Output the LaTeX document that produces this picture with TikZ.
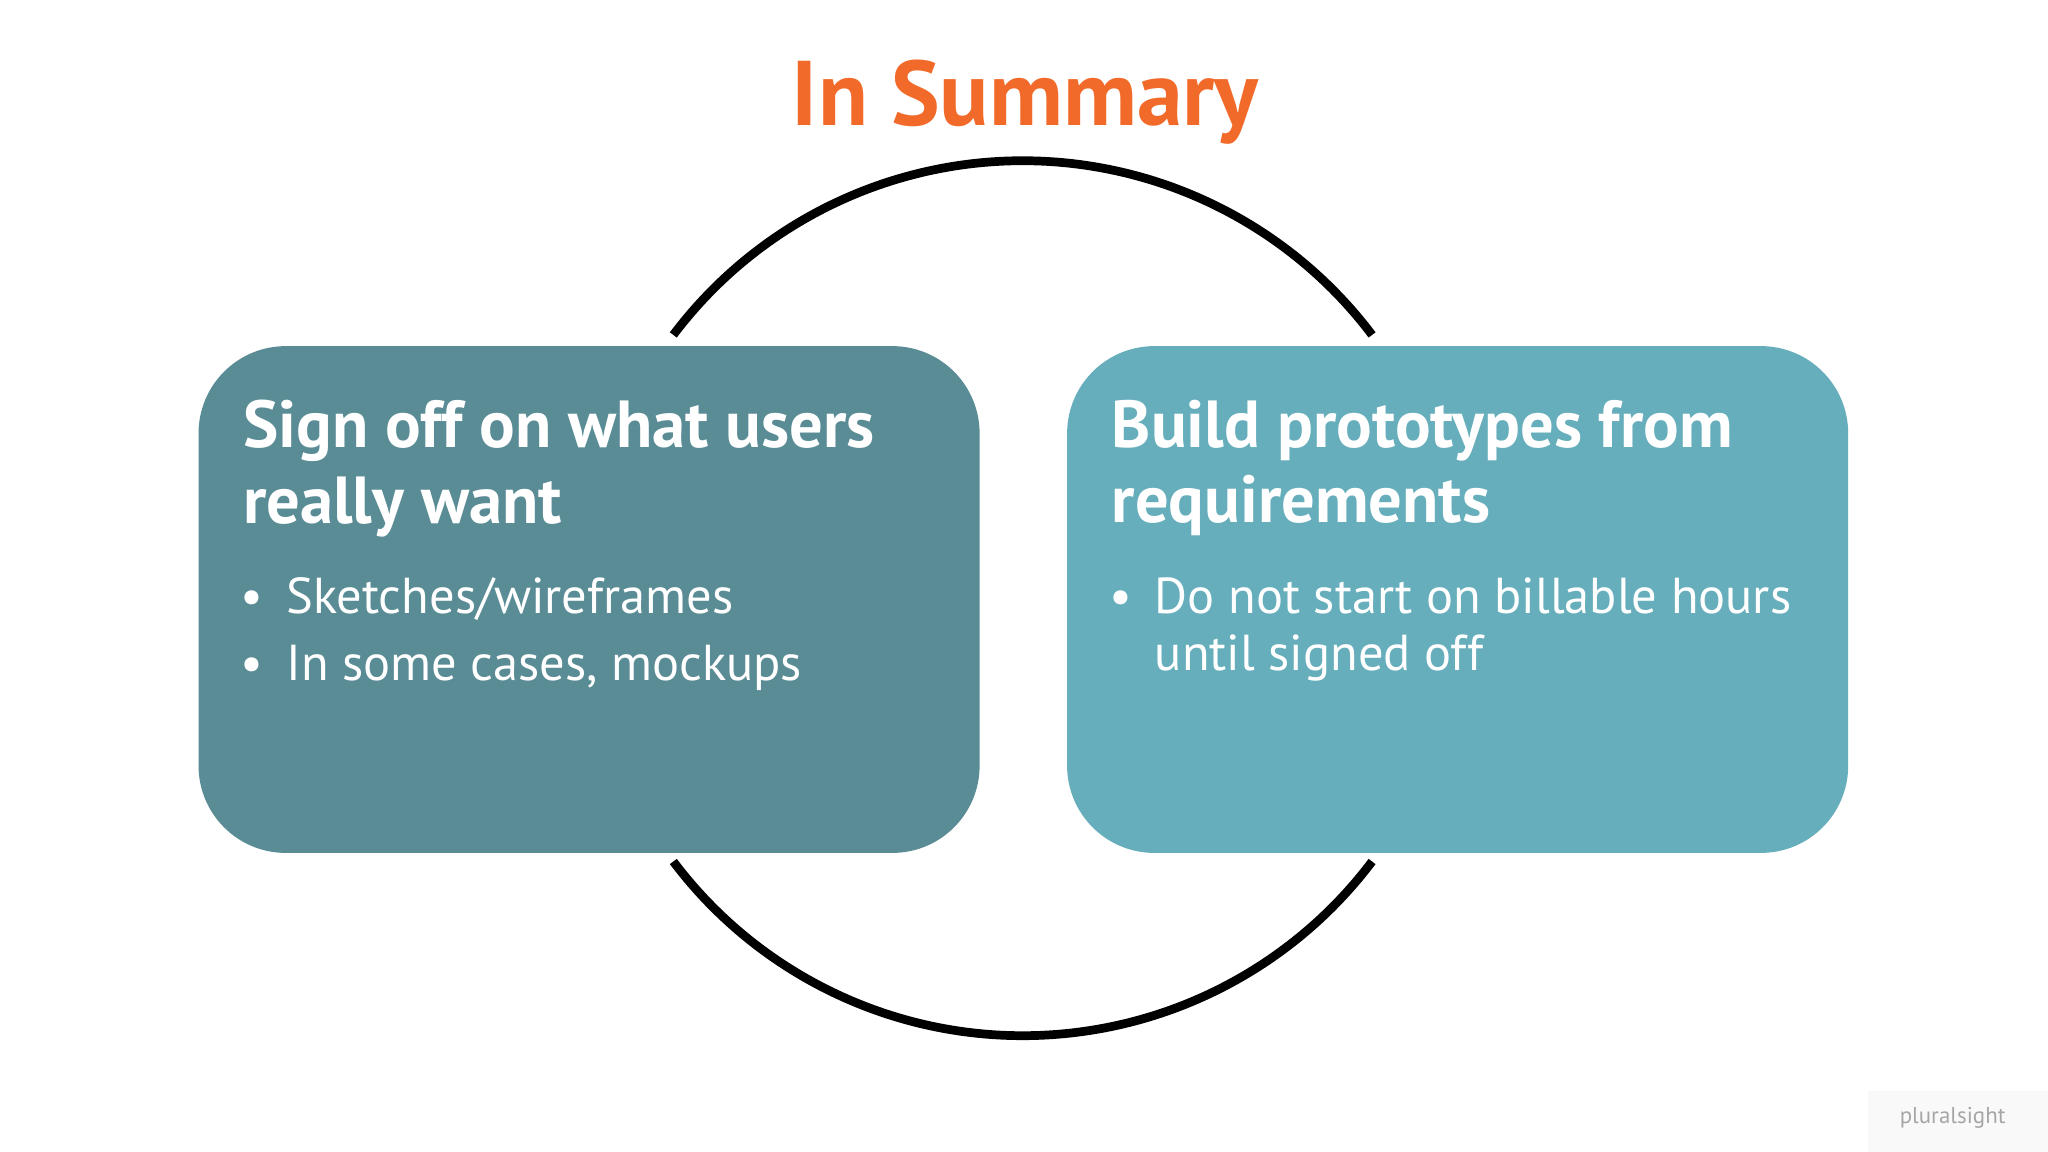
\documentclass[tikz,border=0pt]{standalone}
\usepackage{fontspec}
\setmainfont{PT Sans}
\begin{document}
\begin{tikzpicture}[x=0.02cm,y=-0.02cm,
  box/.style={rounded corners=38pt, inner sep=0pt},
  head/.style={anchor=north west, align=left, text=white, font=\bfseries\fontsize{29}{33}\selectfont},
  bul/.style={anchor=north west, align=left, text=white, font=\fontsize{22}{25}\selectfont},
  arc/.style={line width=3.8pt, black}]
\useasboundingbox (0,0) rectangle (1568,882);
\fill[white] (0,0) rectangle (1568,882);
\node[font=\bfseries\fontsize{40}{42}\selectfont, text={rgb,255:red,242;green,106;blue,42}] (title) at (785,78) {In Summary};
\coordinate (c) at (783,458);
\draw[arc] (c) ++(143:6.7cm) arc[start angle=143, end angle=37, radius=6.7cm];
\draw[arc] (c) ++(217:6.7cm) arc[start angle=217, end angle=323, radius=6.7cm];
\fill[box, fill={rgb,255:red,90;green,140;blue,150}] (152,265) rectangle (750,653);
\fill[box, fill={rgb,255:red,102;green,174;blue,187}] (817,265) rectangle (1415,653);
\node[head] (h1) at (180,300) {Sign off on what users\\really want};
\node[bul] (b1) at (178,436) {\textbullet\hspace{10pt}Sketches/wireframes\\[4pt]\textbullet\hspace{10pt}In some cases, mockups};
\node[head] (h2) at (845,300) {Build prototypes from\\requirements};
\node[bul] (b2) at (843,436) {\textbullet\hspace{10pt}Do not start on billable hours\\\hphantom{\textbullet}\hspace{10pt}until signed off};
\fill[gray!5] (1430,835) rectangle (1568,882);
\node[text=gray!70, font=\fontsize{10}{12}\selectfont] (logo) at (1495,856) {pluralsight};
\end{tikzpicture}
\end{document}
